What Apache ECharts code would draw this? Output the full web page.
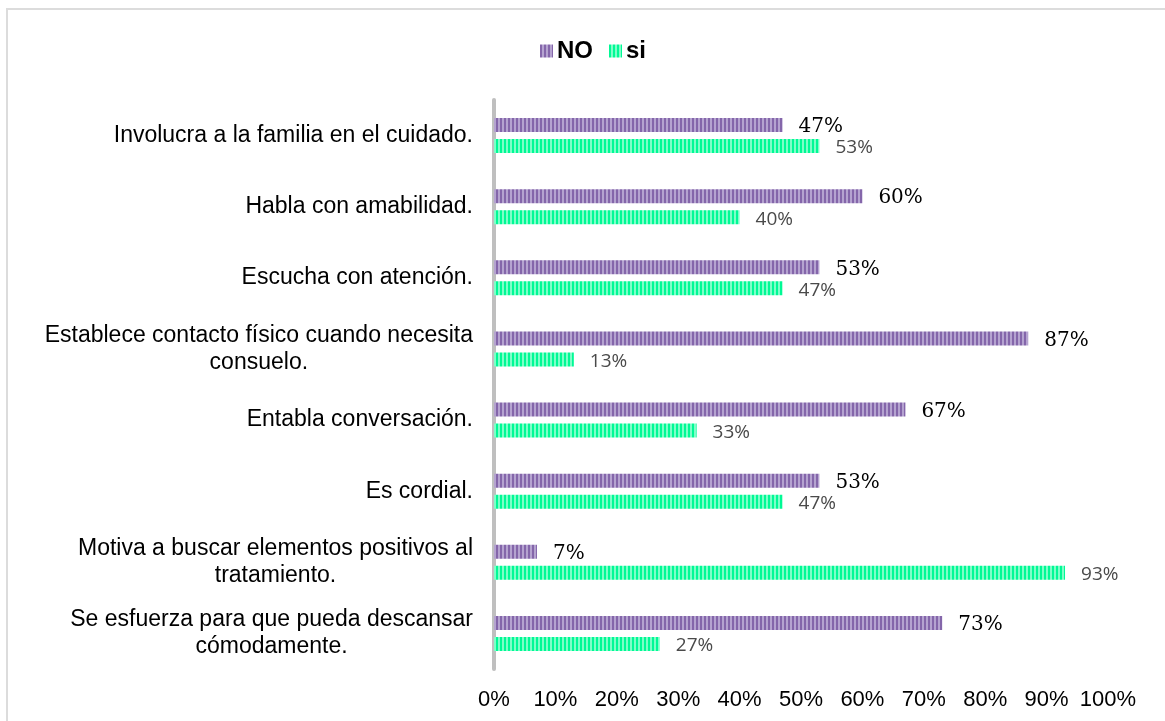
<!DOCTYPE html>
<html>
<head>
<meta charset="utf-8">
<script src="https://cdn.jsdelivr.net/npm/echarts@6/dist/echarts.min.js"></script>
<style>
  html, body { margin: 0; padding: 0; background: #fff; }
  #chart { width: 1165px; height: 721px; }
</style>
</head>
<body>
<div id="chart"></div>
<script>
// datos
const categorias = [
  'Involucra a la familia en el cuidado.',
  'Habla con amabilidad.',
  'Escucha con atención.',
  'Establece contacto físico cuando necesita\nconsuelo.',
  'Entabla conversación.',
  'Es cordial.',
  'Motiva a buscar elementos positivos al\ntratamiento.',
  'Se esfuerza para que pueda descansar\ncómodamente.'
];
const valoresNO = [47, 60, 53, 87, 67, 53, 7, 73];
const valoresSi = [53, 40, 47, 13, 33, 47, 93, 27];
const ticks = [0, 10, 20, 30, 40, 50, 60, 70, 80, 90, 100];

// rayas verticales para las barras
function rayas(oscuro, claro) {
  const c = document.createElement('canvas');
  c.width = 4; c.height = 4;
  const ctx = c.getContext('2d');
  ctx.fillStyle = claro;
  ctx.fillRect(0, 0, 4, 4);
  ctx.fillStyle = oscuro;
  ctx.fillRect(0, 0, 2, 4);
  return { image: c, repeat: 'repeat' };
}

const chart = echarts.init(document.getElementById('chart'));

const etiquetaNO = {
  show: true,
  position: 'right',
  distance: 16,
  offset: [0, 2],
  formatter: '{c}%',
  fontFamily: '"DejaVu Serif", "Liberation Serif", serif',
  fontSize: 20,
  color: '#000'
};
const etiquetaSi = {
  show: true,
  position: 'right',
  distance: 16,
  offset: [0, 2],
  formatter: '{c}%',
  fontFamily: '"Open Sans", sans-serif',
  fontSize: 19,
  color: '#4a4a4a'
};

chart.setOption({
  animation: false,
  textStyle: { fontFamily: '"Liberation Sans", Arial, sans-serif' },
  graphic: [{
    type: 'rect',
    shape: { x: 7, y: 9, width: 1300, height: 900 },
    style: { fill: 'none', stroke: '#dcdcdc', lineWidth: 2 },
    silent: true
  }],
  legend: {
    left: 535,
    top: 34,
    icon: 'rect',
    itemWidth: 13,
    itemHeight: 13,
    itemGap: 16,
    textStyle: {
      fontFamily: '"Liberation Sans", Arial, sans-serif',
      fontSize: 24,
      fontWeight: 'bold',
      color: '#000',
      padding: [0, 0, 0, -1]
    },
    data: ['NO', 'si']
  },
  grid: { left: 494, right: 57, top: 100, bottom: 52, containLabel: false },
  xAxis: {
    type: 'value',
    min: ticks[0],
    max: ticks[ticks.length - 1],
    interval: 10,
    axisLine: { show: false },
    axisTick: { show: false },
    splitLine: { show: false },
    axisLabel: {
      formatter: '{value}%',
      margin: 20,
      fontSize: 22,
      color: '#000',
      fontFamily: '"Liberation Sans", Arial, sans-serif'
    }
  },
  yAxis: {
    type: 'category',
    inverse: true,
    data: categorias,
    axisTick: { show: false },
    axisLine: { show: true, lineStyle: { color: '#bfbfbf', width: 4 } },
    axisLabel: {
      margin: 21,
      fontSize: 23,
      color: '#000',
      lineHeight: 27,
      fontFamily: '"Liberation Sans", Arial, sans-serif',
      formatter: function (v) {
        return v.split('\n').map(function (l) { return '{c|' + l + '}'; }).join('\n');
      },
      rich: {
        c: {
          align: 'center',
          fontSize: 23,
          lineHeight: 27,
          color: '#000',
          fontFamily: '"Liberation Sans", Arial, sans-serif'
        }
      }
    }
  },
  series: [
    {
      name: 'NO',
      type: 'bar',
      data: valoresNO,
      barWidth: 14,
      barGap: '50%',
      itemStyle: { color: rayas('#8466aa', '#b5a3d0') },
      label: etiquetaNO
    },
    {
      name: 'si',
      type: 'bar',
      data: valoresSi,
      barWidth: 14,
      itemStyle: { color: rayas('#00f995', '#7dffc8') },
      label: etiquetaSi
    }
  ]
});
</script>
</body>
</html>
